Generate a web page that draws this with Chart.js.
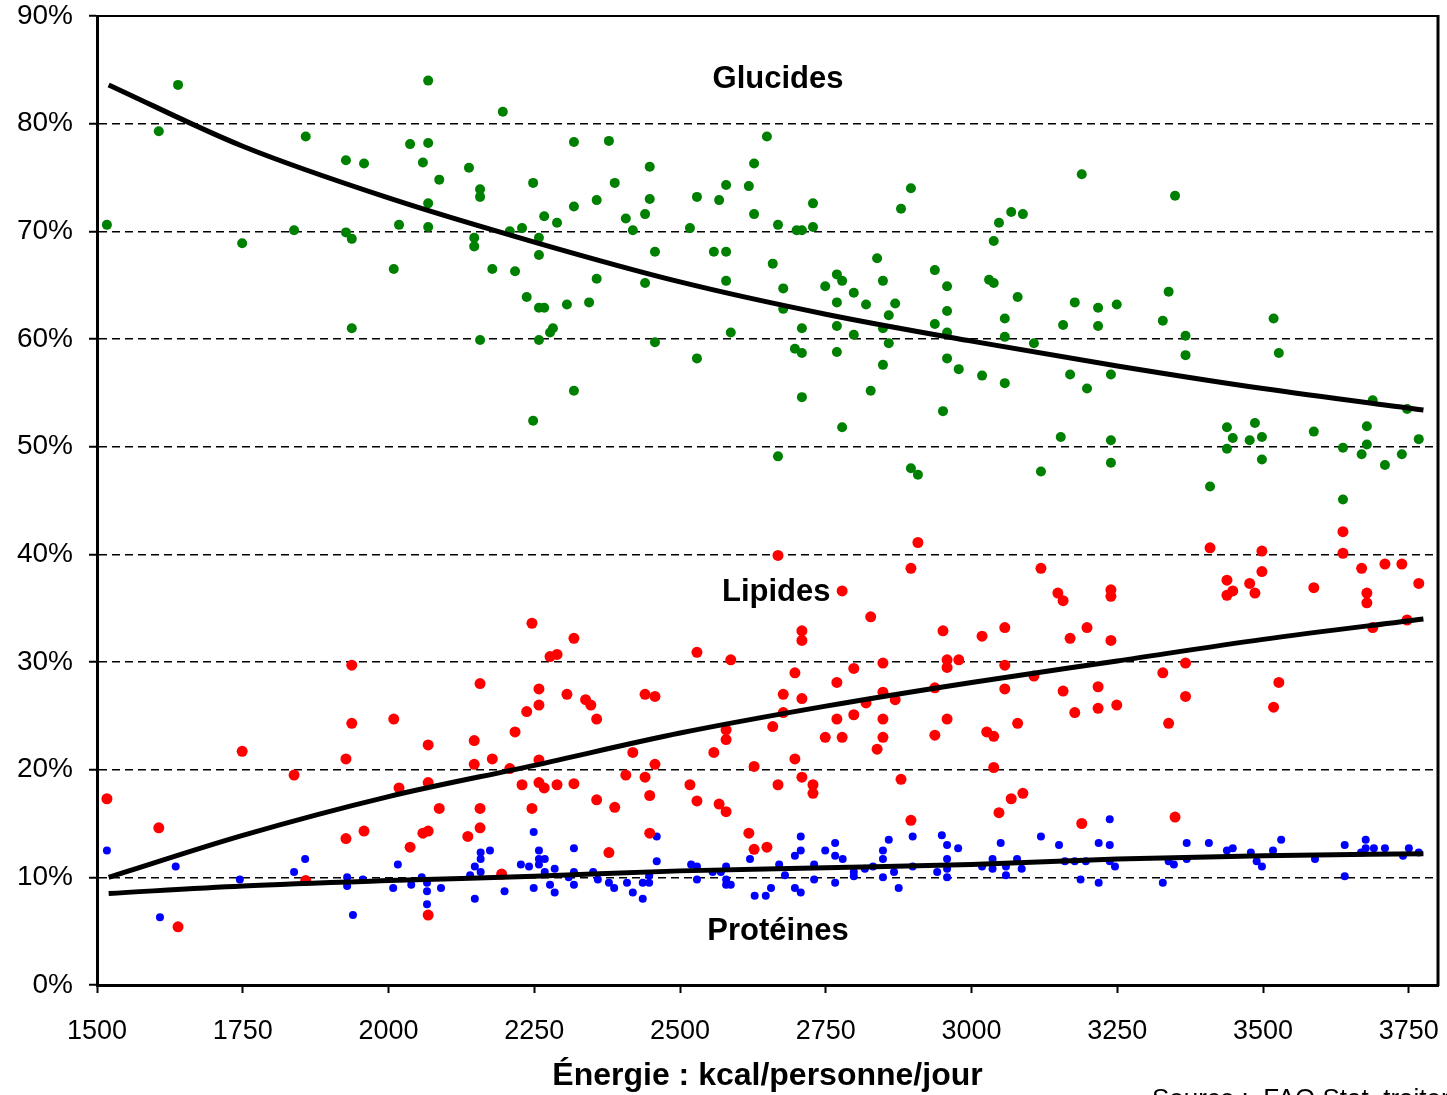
<!DOCTYPE html>
<html>
<head>
<meta charset="utf-8">
<script src="https://cdn.jsdelivr.net/npm/chart.js@4.4.0/dist/chart.umd.min.js"></script>
<style>
  html, body { margin: 0; padding: 0; background: #fff; overflow: hidden; }
</style>
</head>
<body>
<canvas id="chart" width="1447" height="1095"></canvas>
<script>
const FONT = "'Liberation Sans', Arial, sans-serif";

// points [kcal, %]
const glucides = [
  [1639,83.6],[1606,79.3],[1517,70.6],[1749,68.9],[1858,78.8],[1838,70.1],[1927,76.6],[1958,76.3],[1927,69.9],[1937,69.3],
  [1937,61.0],[2009,66.5],[2018,70.6],[2037,78.1],[2068,84.0],[2068,78.2],[2059,76.4],[2087,74.8],[2068,72.6],[2068,70.4],
  [2138,75.9],[2157,73.9],[2157,73.2],[2147,69.4],[2147,68.6],[2157,59.9],[2196,81.1],[2178,66.5],[2208,70.0],[2217,66.3],
  [2229,70.3],[2248,74.5],[2267,71.4],[2258,69.4],[2258,67.8],[2237,63.9],[2258,62.9],[2267,62.9],[2258,59.9],[2248,52.4],
  [2318,78.3],[2378,78.4],[2448,76.0],[2388,74.5],[2318,72.3],[2357,72.9],[2289,70.8],[2407,71.2],[2440,71.6],[2448,73.0],
  [2419,70.1],[2529,73.2],[2567,72.9],[2579,74.3],[2618,74.2],[2627,76.3],[2649,78.8],[2627,71.6],[2517,70.3],[2668,70.6],
  [2700,70.1],[2709,70.1],[2728,70.4],[2728,72.6],[2896,74.0],[2879,72.1],[2457,68.1],[2558,68.1],[2579,68.1],[2357,65.6],
  [2440,65.2],[2579,65.4],[2659,67.0],[2677,64.7],[2677,62.8],[2306,63.2],[2344,63.4],[2282,61.0],[2277,60.6],[2457,59.7],
  [2587,60.6],[2529,58.2],[2318,55.2],[2709,61.0],[2697,59.1],[2709,58.7],[2709,54.6],[2668,49.1],[2749,64.9],[2769,66.0],
  [2778,65.4],[2798,64.3],[2769,63.4],[2769,61.2],[2798,60.4],[2769,58.8],[2778,51.8],[2819,63.2],[2827,55.2],[2838,67.5],
  [2848,65.4],[2869,63.3],[2858,62.2],[2848,61.0],[2858,59.6],[2848,57.6],[2937,66.4],[2958,64.9],[2958,62.6],[2937,61.4],
  [2958,60.6],[2958,58.2],[2978,57.2],[3018,56.6],[2951,53.3],[2896,48.0],[2908,47.4],[3189,75.3],[3349,73.3],[3047,70.8],
  [3068,71.8],[3088,71.6],[3038,69.1],[3030,65.5],[3038,65.2],[3079,63.9],[3057,61.9],[3057,60.2],[3107,59.6],[3057,55.9],
  [3177,63.4],[3217,62.9],[3249,63.2],[3157,61.3],[3217,61.2],[3169,56.7],[3198,55.4],[3239,56.7],[3338,64.4],[3328,61.7],
  [3367,60.3],[3367,58.5],[3518,61.9],[3527,58.7],[3153,50.9],[3239,50.6],[3239,48.5],[3119,47.7],[3409,46.3],[3438,51.8],
  [3448,50.8],[3438,49.8],[3486,52.2],[3498,50.9],[3477,50.6],[3498,48.8],[3587,51.4],[3637,49.9],[3678,51.9],[3678,50.2],
  [3669,49.3],[3709,48.3],[3738,49.3],[3767,50.7],[3688,54.3],[3747,53.5],[3637,45.1]
];

const lipides = [
  [1517,17.3],[1606,14.6],[1639,5.4],[1749,21.7],[1838,19.5],[1858,9.7],[1937,29.7],[1937,24.3],[1927,21.0],[1927,13.6],
  [1958,14.3],[2009,24.7],[2018,18.3],[2037,12.8],[2068,22.3],[2068,18.8],[2059,14.1],[2068,14.3],[2087,16.4],[2068,6.5],
  [2157,28.0],[2147,22.7],[2147,20.5],[2178,21.0],[2157,16.4],[2157,14.6],[2136,13.8],[2194,10.3],[2246,33.6],[2258,27.5],
  [2237,25.4],[2258,26.0],[2217,23.5],[2258,20.9],[2208,20.1],[2229,18.6],[2258,18.8],[2267,18.3],[2246,16.4],[2277,30.5],
  [2289,30.7],[2318,32.2],[2306,27.0],[2338,26.5],[2347,26.0],[2357,24.7],[2440,27.0],[2457,26.8],[2529,30.9],[2587,30.2],
  [2419,21.6],[2457,20.5],[2407,19.5],[2440,19.3],[2448,17.6],[2289,18.6],[2318,18.7],[2357,17.2],[2388,16.5],[2448,14.1],
  [2378,12.3],[2517,18.6],[2529,17.1],[2567,16.8],[2579,16.1],[2618,14.1],[2627,12.6],[2649,12.8],[2558,21.6],[2579,22.8],
  [2579,23.7],[2659,24.0],[2627,20.3],[2677,27.0],[2677,25.3],[2668,39.9],[2697,29.0],[2709,32.9],[2709,32.0],[2709,26.6],
  [2697,21.0],[2709,19.3],[2728,18.6],[2728,17.8],[2668,18.6],[2778,36.6],[2827,34.2],[2769,28.1],[2798,29.4],[2769,24.7],
  [2798,25.1],[2749,23.0],[2778,23.0],[2838,21.9],[2848,29.9],[2848,27.2],[2869,26.5],[2848,24.7],[2848,23.0],[2819,26.2],
  [2879,19.1],[2896,15.3],[2896,38.7],[2908,41.1],[2951,32.9],[2958,30.2],[2978,30.2],[2958,29.5],[2937,27.6],[2958,24.7],
  [2937,23.2],[3018,32.4],[3026,23.5],[3119,38.7],[3148,36.4],[3157,35.7],[3239,36.7],[3239,36.1],[3057,33.2],[3198,33.2],
  [3169,32.2],[3239,32.0],[3057,29.7],[3057,27.5],[3107,28.7],[3157,27.3],[3217,27.7],[3177,25.3],[3217,25.7],[3249,26.0],
  [3038,23.1],[3079,24.3],[3038,20.2],[3088,17.8],[3068,17.3],[3047,16.0],[3189,15.0],[3349,15.6],[3409,40.6],[3438,37.6],
  [3448,36.6],[3438,36.2],[3498,40.3],[3498,38.4],[3477,37.3],[3486,36.4],[3587,36.9],[3637,42.1],[3637,40.1],[3669,38.7],
  [3678,36.4],[3678,35.5],[3709,39.1],[3738,39.1],[3767,37.3],[3688,33.2],[3747,33.9],[3328,29.0],[3367,29.9],[3367,26.8],
  [3338,24.3],[3527,28.1],[3518,25.8]
];

const proteines = [
  [1517,12.5],[1608,6.3],[1635,11.0],[1838,10.5],[1857,11.7],[1745,9.8],[1929,10.0],[1929,9.2],[1939,6.5],[1956,9.8],
  [2008,9.0],[2016,11.2],[2039,9.3],[2057,10.0],[2066,9.5],[2066,8.7],[2066,7.5],[2090,9.0],[2140,10.2],[2148,11.0],
  [2158,11.7],[2158,12.3],[2158,10.5],[2148,8.0],[2174,12.5],[2199,8.7],[2227,11.2],[2241,11.0],[2249,14.2],[2258,12.5],
  [2258,11.7],[2268,11.7],[2258,11.2],[2249,9.0],[2268,10.5],[2285,10.8],[2277,9.3],[2285,8.6],[2318,12.7],[2318,10.5],
  [2318,9.3],[2309,10.0],[2351,10.5],[2359,9.8],[2378,9.5],[2387,9.0],[2409,9.5],[2419,8.6],[2436,8.0],[2447,9.5],
  [2436,9.5],[2447,10.2],[2460,13.8],[2460,11.5],[2519,11.2],[2529,9.8],[2529,11.0],[2556,10.5],[2570,10.5],[2579,11.0],
  [2579,9.8],[2579,9.3],[2587,9.3],[2620,11.7],[2628,8.3],[2647,8.3],[2656,9.0],[2670,11.2],[2680,10.2],[2697,12.0],
  [2707,12.5],[2707,13.8],[2697,9.0],[2707,8.6],[2730,9.8],[2730,11.2],[2749,12.5],[2766,13.2],[2766,12.0],[2766,9.5],
  [2779,11.7],[2798,10.5],[2798,10.1],[2817,10.8],[2831,11.0],[2848,12.5],[2848,11.7],[2848,10.0],[2858,13.5],[2867,10.5],
  [2875,9.0],[2899,13.8],[2899,11.0],[2949,13.9],[2958,13.0],[2977,12.7],[2958,11.7],[2958,10.8],[2958,10.0],[2941,10.5],
  [3018,11.0],[3036,11.7],[3036,10.8],[3050,13.2],[3059,11.0],[3059,10.2],[3078,11.7],[3086,10.8],[3119,13.8],[3150,13.0],
  [3160,11.5],[3177,11.5],[3196,11.5],[3187,9.8],[3218,13.2],[3218,9.5],[3237,13.0],[3237,11.5],[3246,11.0],[3237,15.4],
  [3328,9.5],[3338,11.5],[3347,11.2],[3369,11.7],[3369,13.2],[3407,13.2],[3438,12.5],[3448,12.7],[3479,12.3],[3489,11.5],
  [3498,11.0],[3517,12.5],[3531,13.5],[3589,11.7],[3640,13.0],[3640,10.1],[3668,12.3],[3676,12.7],[3676,13.5],[3690,12.7],
  [3709,12.7],[3740,12.0],[3750,12.7],[3767,12.3]
];

// courbes de tendance (lues tous les 250 kcal)
const trendX         = [1520, 1750, 2000, 2250, 2500, 2750, 3000, 3250, 3500, 3775];
const trendGlucides  = [83.6, 77.9, 73.1, 69.0, 65.3, 62.3, 59.8, 57.5, 55.4, 53.4];
const trendLipides   = [10.0, 13.9, 17.5, 20.4, 23.4, 25.9, 28.1, 30.1, 32.1, 34.0];
const trendProteines = [8.5, 9.2, 9.7, 10.1, 10.6, 10.9, 11.2, 11.7, 12.0, 12.2];

// graduations
const xTicks = [1500, 1750, 2000, 2250, 2500, 2750, 3000, 3250, 3500, 3750];
const yTicks = [0, 10, 20, 30, 40, 50, 60, 70, 80, 90];

// étiquettes dans le graphique
const labels = [
  { text: 'Glucides',  x: 2668, y: 84.1 },
  { text: 'Lipides',   x: 2665, y: 36.5 },
  { text: 'Protéines', x: 2668, y: 5.0 }
];

const toXY = (pairs) => pairs.map(p => ({ x: p[0], y: p[1] }));
const trend = (ys) => trendX.map((x, i) => ({ x, y: ys[i] }));

function scatterSet(label, data, color, r) {
  return {
    type: 'scatter', label, data: toXY(data),
    backgroundColor: color, borderColor: color, borderWidth: 0,
    pointRadius: r, pointHoverRadius: r, order: 2
  };
}

function trendSet(label, ys) {
  return {
    type: 'line', label, data: trend(ys), showLine: true,
    borderColor: '#000', borderWidth: 5, pointRadius: 0, fill: false,
    cubicInterpolationMode: 'monotone', order: 0
  };
}

// cadre haut/droite, textes et source
const decor = {
  id: 'decor',
  afterDraw(chart) {
    const { ctx, chartArea: a, scales } = chart;
    ctx.save();
    ctx.strokeStyle = '#000';
    ctx.lineWidth = 2;
    ctx.beginPath();
    ctx.moveTo(a.left, a.top);
    ctx.lineTo(a.right, a.top);
    ctx.stroke();
    ctx.lineWidth = 3;
    ctx.beginPath();
    ctx.moveTo(a.right, a.top - 1);
    ctx.lineTo(a.right, a.bottom + 1);
    ctx.stroke();

    ctx.fillStyle = '#000';
    ctx.font = 'bold 31px ' + FONT;
    ctx.textAlign = 'center';
    ctx.textBaseline = 'middle';
    labels.forEach(l => {
      ctx.fillText(l.text, scales.x.getPixelForValue(l.x), scales.y.getPixelForValue(l.y));
    });

    ctx.font = '26px ' + FONT;
    ctx.textAlign = 'left';
    ctx.textBaseline = 'alphabetic';
    ctx.fillText('Source :  FAO Stat, traitements', 1152, 1107);
    ctx.restore();
  }
};

new Chart(document.getElementById('chart'), {
  type: 'scatter',
  data: {
    datasets: [
      trendSet('Tendance glucides', trendGlucides),
      trendSet('Tendance lipides', trendLipides),
      trendSet('Tendance protéines', trendProteines),
      scatterSet('Glucides', glucides, '#008000', 5),
      scatterSet('Lipides', lipides, '#ff0000', 5.5),
      scatterSet('Protéines', proteines, '#0000ff', 4)
    ]
  },
  options: {
    responsive: false,
    animation: false,
    layout: { padding: { top: 16, right: 9, left: 0, bottom: 0 } },
    plugins: { legend: { display: false }, tooltip: { enabled: false } },
    scales: {
      x: {
        type: 'linear', min: 1500, max: 3800,
        afterBuildTicks: s => { s.ticks = xTicks.map(v => ({ value: v })); },
        afterFit: s => { s.height = 110; s.paddingLeft = 0; s.paddingRight = 0; },
        ticks: {
          autoSkip: false, maxRotation: 0, color: '#000', padding: 22,
          font: { size: 27, family: FONT },
          callback: v => String(v)
        },
        grid: { drawOnChartArea: false, drawTicks: true, tickLength: 8, tickWidth: 2, tickColor: '#000', color: '#000' },
        border: { color: '#000', width: 3 },
        title: {
          display: true, text: 'Énergie : kcal/personne/jour', color: '#000',
          font: { size: 32, weight: 'bold', family: FONT }, padding: { top: 0, bottom: 0 }
        }
      },
      y: {
        min: 0, max: 90,
        afterBuildTicks: s => { s.ticks = yTicks.map(v => ({ value: v })); },
        afterFit: s => { s.width = 97; s.paddingTop = 0; s.paddingBottom = 0; },
        ticks: {
          autoSkip: false, color: '#000', padding: 16,
          font: { size: 28, family: FONT },
          callback: v => v + '%'
        },
        grid: { color: '#000', lineWidth: 1.5, tickLength: 8, tickWidth: 2, tickColor: '#000' },
        border: { color: '#000', width: 3, dash: [8, 5] }
      }
    }
  },
  plugins: [decor]
});
</script>
</body>
</html>
